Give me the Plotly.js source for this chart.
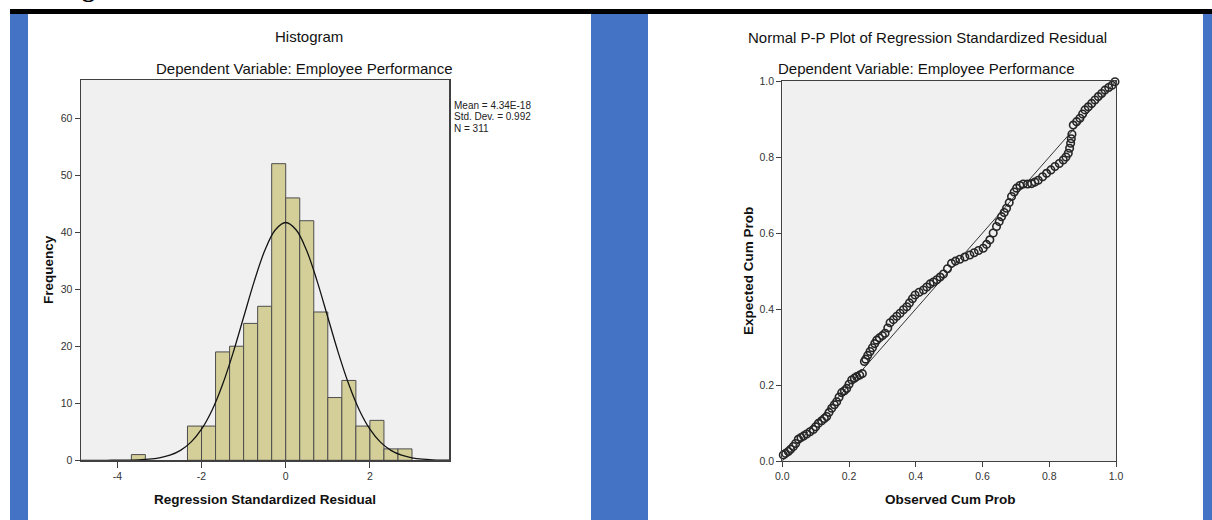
<!DOCTYPE html>
<html>
<head>
<meta charset="utf-8">
<script src="https://cdn.plot.ly/plotly-3.0.1.min.js"></script>
<style>
  html, body { margin: 0; padding: 0; background: #ffffff; }
  #chart { width: 1212px; height: 520px; }
</style>
</head>
<body>
<div id="chart"></div>
<script>
// ---------------- DATA ----------------
// Histogram of regression standardized residuals (bin width 1/3)
const histBinCenters = [-3.5, -2.1667, -1.8333, -1.5, -1.1667, -0.8333, -0.5, -0.1667,
                        0.1667, 0.5, 0.8333, 1.1667, 1.5, 1.8333, 2.1667, 2.5, 2.8333];
const histCounts = [1, 6, 6, 19, 20, 24, 27, 52, 46, 42, 26, 11, 14, 6, 7, 2, 2];
const histBinWidth = 1 / 3;

// Fitted normal curve
const normalX = [-4.9, -4.5, -4.25, -4, -3.75, -3.5, -3.25, -3, -2.75, -2.5, -2.25, -2, -1.75,
                 -1.5, -1.25, -1, -0.75, -0.5, -0.25, 0, 0.25, 0.5, 0.75, 1, 1.25, 1.5, 1.75,
                 2, 2.25, 2.5, 2.75, 3, 3.25, 3.5, 3.75, 3.9];
const normalY = [0, 0, 0.004, 0.01, 0.03, 0.08, 0.19, 0.43, 0.89, 1.74, 3.18, 5.46, 8.79,
                 13.29, 18.84, 25.08, 31.33, 36.72, 40.38, 41.69, 40.38, 36.72, 31.33, 25.08, 18.84, 13.29, 8.79,
                 5.46, 3.18, 1.74, 0.89, 0.43, 0.19, 0.08, 0.03, 0.01];

const histXTicks = [-4, -2, 0, 2];
const histXTickText = ["-4", "-2", "0", "2"];
const histYTicks = [0, 10, 20, 30, 40, 50, 60];
const statLines = ["Mean = 4.34E-18", "Std. Dev. = 0.992", "N = 311"];

// Normal P-P plot points (observed vs expected cumulative probability)
const ppObserved = [0.003, 0.010, 0.018, 0.025, 0.033, 0.040, 0.048, 0.056, 0.064, 0.073,
  0.083, 0.093, 0.100, 0.108, 0.118, 0.126, 0.133, 0.140, 0.148, 0.156,
  0.163, 0.170, 0.178, 0.186, 0.193, 0.200, 0.208, 0.216, 0.223, 0.232,
  0.240, 0.246, 0.250, 0.256, 0.263, 0.270, 0.277, 0.283, 0.291, 0.300,
  0.308, 0.316, 0.323, 0.333, 0.343, 0.353, 0.363, 0.373, 0.381, 0.390,
  0.398, 0.410, 0.423, 0.433, 0.443, 0.453, 0.463, 0.473, 0.483, 0.495,
  0.507, 0.519, 0.532, 0.547, 0.562, 0.575, 0.588, 0.602, 0.612, 0.622,
  0.632, 0.642, 0.650, 0.657, 0.665, 0.672, 0.680, 0.687, 0.695, 0.702,
  0.712, 0.722, 0.735, 0.747, 0.757, 0.767, 0.780, 0.792, 0.805, 0.817,
  0.830, 0.842, 0.850, 0.857, 0.861, 0.864, 0.866, 0.868, 0.872, 0.882,
  0.892, 0.900, 0.907, 0.917, 0.927, 0.937, 0.947, 0.957, 0.967, 0.978,
  0.988, 0.997];
const ppExpected = [0.016, 0.020, 0.025, 0.031, 0.038, 0.046, 0.057, 0.062, 0.066, 0.071,
  0.077, 0.083, 0.090, 0.099, 0.106, 0.112, 0.117, 0.128, 0.139, 0.148,
  0.156, 0.168, 0.180, 0.185, 0.191, 0.202, 0.213, 0.218, 0.222, 0.226,
  0.230, 0.262, 0.268, 0.278, 0.288, 0.298, 0.309, 0.318, 0.324, 0.330,
  0.336, 0.350, 0.364, 0.372, 0.381, 0.389, 0.398, 0.406, 0.416, 0.427,
  0.437, 0.444, 0.450, 0.458, 0.466, 0.471, 0.477, 0.484, 0.492, 0.506,
  0.520, 0.526, 0.531, 0.537, 0.542, 0.548, 0.554, 0.560, 0.570, 0.582,
  0.600, 0.617, 0.630, 0.643, 0.654, 0.665, 0.680, 0.696, 0.708, 0.718,
  0.725, 0.729, 0.729, 0.730, 0.734, 0.739, 0.748, 0.757, 0.766, 0.775,
  0.783, 0.792, 0.800, 0.810, 0.823, 0.836, 0.848, 0.860, 0.884, 0.893,
  0.902, 0.913, 0.924, 0.932, 0.941, 0.950, 0.959, 0.967, 0.976, 0.983,
  0.989, 0.998];
const refLineX = [0, 1];
const refLineY = [0, 1];
const ppTicks = [0, 0.2, 0.4, 0.6, 0.8, 1.0];

// ---------------- LAYOUT HELPERS ----------------
const W = 1212, H = 520;
const px = v => v / W;
const py = v => 1 - v / H;
const FONT = "Liberation Sans, Arial, Helvetica, sans-serif";

function axisBase() {
  return {
    showgrid: false, zeroline: false, showline: true, mirror: true,
    linecolor: '#404040', linewidth: 1.2,
    ticks: 'outside', tickcolor: '#404040', tickwidth: 1,
    tickfont: { family: FONT, size: 10.5, color: '#333333' },
    fixedrange: true
  };
}

const traces = [
  { type: 'bar', x: histBinCenters, y: histCounts, width: histBinWidth,
    marker: { color: '#d4cf98', line: { color: '#4d4d4d', width: 1 } },
    xaxis: 'x', yaxis: 'y', hoverinfo: 'skip' },
  { type: 'scatter', mode: 'lines', x: normalX, y: normalY,
    line: { color: '#141414', width: 1.3, shape: 'spline' },
    xaxis: 'x', yaxis: 'y', hoverinfo: 'skip' },
  { type: 'scatter', mode: 'lines', x: refLineX, y: refLineY,
    line: { color: '#333333', width: 1 },
    xaxis: 'x2', yaxis: 'y2', hoverinfo: 'skip' },
  { type: 'scatter', mode: 'markers', x: ppObserved, y: ppExpected,
    marker: { symbol: 'circle-open', size: 7.5, color: '#262626', line: { width: 1.6, color: '#262626' } },
    cliponaxis: false, xaxis: 'x2', yaxis: 'y2', hoverinfo: 'skip' }
];

const xa = Object.assign(axisBase(), {
  domain: [px(80.7), px(449.3)], range: [-4.87, 3.886], anchor: 'y',
  tickmode: 'array', tickvals: histXTicks, ticktext: histXTickText, ticklen: 6
});
const ya = Object.assign(axisBase(), {
  domain: [py(460.3), py(80)], range: [0, 66.67], anchor: 'x',
  tickmode: 'array', tickvals: histYTicks, ticklen: 5
});
const xa2 = Object.assign(axisBase(), {
  domain: [px(782.3), px(1116)], range: [0, 1], anchor: 'y2',
  tickmode: 'array', tickvals: ppTicks, tickformat: '.1f', ticklen: 5
});
const ya2 = Object.assign(axisBase(), {
  domain: [py(461), py(81)], range: [0, 1], anchor: 'x2',
  tickmode: 'array', tickvals: ppTicks, tickformat: '.1f', ticklen: 5
});

function ann(text, x, y, opts) {
  return Object.assign({
    text: text, x: px(x), y: py(y), xref: 'paper', yref: 'paper',
    showarrow: false, xanchor: 'center', yanchor: 'middle',
    font: { family: FONT, size: 15, color: '#111111' }
  }, opts || {});
}

const annotations = [
  ann('Histogram', 309, 37),
  ann('Dependent Variable: Employee Performance', 304, 68.5),
  ann('Normal P-P Plot of Regression Standardized Residual', 927, 38),
  ann('Dependent Variable: Employee Performance', 926, 69),
  ann('<b>Frequency</b>', 48, 270, { textangle: -90, font: { family: FONT, size: 13.5, color: '#111' } }),
  ann('<b>Regression Standardized Residual</b>', 265, 499, { font: { family: FONT, size: 13.5, color: '#111' } }),
  ann('<b>Expected Cum Prob</b>', 748, 271, { textangle: -90, font: { family: FONT, size: 13.5, color: '#111' } }),
  ann('<b>Observed Cum Prob</b>', 950, 499, { font: { family: FONT, size: 13.5, color: '#111' } }),
  ann('<b>g</b>', 88, 5, { yanchor: 'bottom', font: { family: 'Liberation Serif, DejaVu Serif, serif', size: 26, color: '#000' } })
];
statLines.forEach((t, i) => {
  annotations.push(ann(t, 452, 106 + i * 11, { xanchor: 'left', font: { family: FONT, size: 10, color: '#222' } }));
});

const blue = '#4472c4';
const shapes = [
  { type: 'rect', xref: 'paper', yref: 'paper', x0: px(10), x1: px(1212), y0: py(14), y1: py(9),
    fillcolor: '#000000', line: { width: 0 }, layer: 'below' },
  { type: 'rect', xref: 'paper', yref: 'paper', x0: px(10), x1: px(28), y0: 0, y1: py(14),
    fillcolor: blue, line: { width: 0 }, layer: 'below' },
  { type: 'rect', xref: 'paper', yref: 'paper', x0: px(591), x1: px(648), y0: 0, y1: py(14),
    fillcolor: blue, line: { width: 0 }, layer: 'below' },
  { type: 'rect', xref: 'paper', yref: 'paper', x0: px(1203), x1: px(1212), y0: 0, y1: py(14),
    fillcolor: blue, line: { width: 0 }, layer: 'below' }
];

const layout = {
  width: W, height: H,
  margin: { l: 0, r: 0, t: 0, b: 0, pad: 0 },
  paper_bgcolor: '#ffffff', plot_bgcolor: '#f0f0f0',
  showlegend: false,
  font: { family: FONT, color: '#222' },
  xaxis: xa, yaxis: ya, xaxis2: xa2, yaxis2: ya2,
  annotations: annotations, shapes: shapes,
  bargap: 0
};

Plotly.newPlot('chart', traces, layout, { displayModeBar: false, staticPlot: true });
</script>
</body>
</html>
